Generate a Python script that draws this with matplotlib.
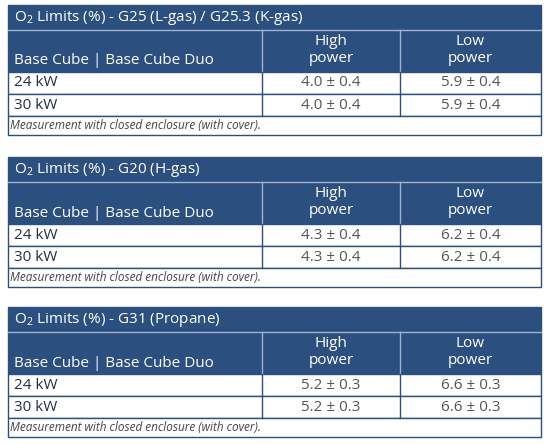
import matplotlib.pyplot as plt
from matplotlib.patches import Rectangle

titles = ["O$_2$ Limits (%) - G25 (L-gas) / G25.3 (K-gas)",
          "O$_2$ Limits (%) - G20 (H-gas)",
          "O$_2$ Limits (%) - G31 (Propane)"]
rows = ["24 kW", "30 kW"]
high = [["4.0 ± 0.4", "4.0 ± 0.4"], ["4.3 ± 0.4", "4.3 ± 0.4"], ["5.2 ± 0.3", "5.2 ± 0.3"]]
low = [["5.9 ± 0.4", "5.9 ± 0.4"], ["6.2 ± 0.4", "6.2 ± 0.4"], ["6.6 ± 0.3", "6.6 ± 0.3"]]
note = "Measurement with closed enclosure (with cover)."
tops = [5, 157, 307]

blue = "#2b4f7e"
plt.rcParams['font.family'] = ['Open Sans', 'DejaVu Sans']
plt.rcParams['mathtext.fontset'] = 'custom'
plt.rcParams['mathtext.rm'] = 'Open Sans'
fig = plt.figure(figsize=(5.5, 4.44), dpi=100)
ax = fig.add_axes([0, 0, 1, 1])
ax.set_xlim(0, 550)
ax.set_ylim(444, 0)
ax.axis('off')

fs = 11
x0, c1, c2, x1 = 8, 262, 400, 541
for t, top in enumerate(tops):
    # title bar and header
    ax.add_patch(Rectangle((x0, top), x1 - x0, 67, fc=blue, ec=blue))
    ax.plot([x0, x1], [top + 25, top + 25], color="#9fb3cc", lw=1)
    ax.plot([c1, c1], [top + 25, top + 67], color="#9fb3cc", lw=1)
    ax.plot([c2, c2], [top + 25, top + 67], color="#9fb3cc", lw=1)
    ax.text(x0 + 6, top + 13, titles[t], color="white", fontsize=fs, va='center')
    ax.text(x0 + 6, top + 56, "Base Cube | Base Cube Duo", color="white", fontsize=fs, va='center')
    ax.text((c1 + c2) / 2, top + 45, "High\npower", color="white", fontsize=fs,
            va='center', ha='center', linespacing=1.15)
    ax.text((c2 + x1) / 2, top + 45, "Low\npower", color="white", fontsize=fs,
            va='center', ha='center', linespacing=1.15)
    # data rows
    y = top + 67
    for i, r in enumerate(rows):
        ax.add_patch(Rectangle((x0, y), x1 - x0, 22, fc="white", ec=blue, lw=1))
        ax.plot([c1, c1], [y, y + 22], color=blue, lw=1)
        ax.plot([c2, c2], [y, y + 22], color=blue, lw=1)
        ax.text(x0 + 6, y + 11, r, color="#1f2f45", fontsize=fs, va='center')
        ax.text((c1 + c2) / 2, y + 11, high[t][i], color="#555555", fontsize=fs, va='center', ha='center')
        ax.text((c2 + x1) / 2, y + 11, low[t][i], color="#555555", fontsize=fs, va='center', ha='center')
        y += 22
    ax.add_patch(Rectangle((x0, y), x1 - x0, 19, fc="white", ec=blue, lw=1))
    ax.text(x0 + 2, y + 9.5, note, color="#444444", fontsize=8.5, style='italic', va='center')

fig.savefig("out.png", dpi=100)
